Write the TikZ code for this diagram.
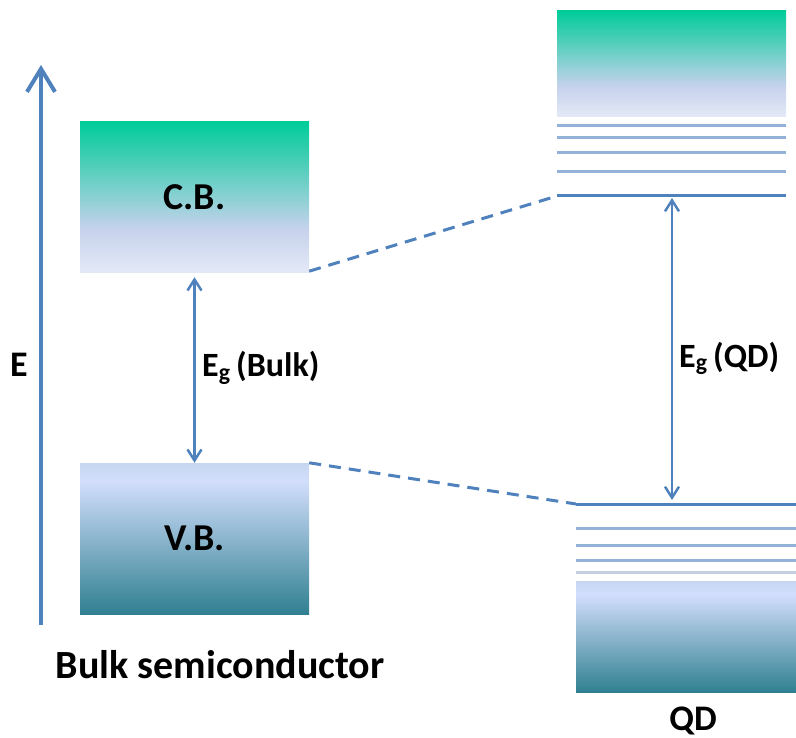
\documentclass[tikz,border=0pt]{standalone}
\usepackage{fontspec}
\setmainfont{Carlito}
\usetikzlibrary{arrows.meta}

\definecolor{lineblue}{RGB}{79,129,189}
\definecolor{levelblue}{RGB}{146,178,216}
\definecolor{levelpale}{RGB}{196,208,226}
\definecolor{cbtop}{RGB}{0,204,153}
\definecolor{cblav}{RGB}{198,210,236}
\definecolor{cbbot}{RGB}{228,233,246}
\definecolor{vbtop}{RGB}{198,214,240}
\definecolor{vbpale}{RGB}{210,222,252}
\definecolor{vbbot}{RGB}{48,128,145}

\pgfdeclareverticalshading{cbshade}{100bp}{color(0bp)=(cbbot); color(25bp)=(cbbot); color(39.5bp)=(cblav); color(75bp)=(cbtop); color(100bp)=(cbtop)}
\pgfdeclareverticalshading{vbshade}{100bp}{color(0bp)=(vbbot); color(25bp)=(vbbot); color(69bp)=(vbpale); color(75bp)=(vbtop); color(100bp)=(vbtop)}

\begin{document}
\begin{tikzpicture}[x=1pt,y=-1pt]
    \tikzstyle{every node}=[inner sep=0pt, font=\bfseries\fontsize{36}{40}\selectfont];
    \tikzstyle{band} = [minimum width=229pt, minimum height=151pt, font=\bfseries\fontsize{38}{40}\selectfont]
    \tikzstyle{gaplabel} = [anchor=base west, font=\bfseries\fontsize{34}{40}\selectfont]
    \tikzstyle{level} = [line width=3pt, draw=lineblue]
    \tikzstyle{sublevel} = [line width=3pt]
    \tikzstyle{axis} = [-{Straight Barb[length=23pt,width=28pt]}, line width=4pt, draw=lineblue]
    \tikzstyle{gap} = [{Straight Barb[length=11pt,width=14pt]}-{Straight Barb[length=11pt,width=14pt]}, line width=2.5pt, draw=lineblue]
    \tikzstyle{joint} = [dash pattern=on 12pt off 8pt, line width=3pt, draw=lineblue]

    \useasboundingbox (0,0) rectangle (796,738);

    % bulk bands
    \node[band, shading=cbshade] (CB) at (194.5,197.5) {C.B.};
    \node[band, shading=vbshade] (VB) at (194.5,538.5) {V.B.};

    % quantum dot bands and levels
    \node[band, minimum height=106pt, shading=cbshade] (QDCB) at (671.5,64) {};
    \node[band, minimum width=220pt, minimum height=111pt, shading=vbshade] (QDVB) at (686,636.5) {};

    \foreach \y in {126,138,153,172}
        \draw[sublevel, draw=levelblue] (557,\y) -- (786,\y);
    \draw[level] (557,196) coordinate (CBedge) -- (786,196);

    \draw[level] (576,504) coordinate (VBedge) -- (796,504);
    \foreach \y/\c in {528/levelblue, 545/levelblue, 560/levelblue, 572/levelpale}
        \draw[sublevel, draw=\c] (576,\y) -- (796,\y);

    % energy axis
    \coordinate (Ebase) at (41,625);
    \coordinate (Etip) at (41,65);
    \draw[axis] (Ebase) -- (Etip);
    \node[anchor=base west] (Elabel) at (10,377) {E};

    % gaps
    \draw[gap, shorten <=4pt] (CB.south) -- (VB.north);
    \node[gaplabel] (EgBulk) at (202,377) {E\textsubscript{g}\,(Bulk)};

    \coordinate (QDgapTop) at (672,198);
    \coordinate (QDgapBot) at (672,500);
    \draw[gap] (QDgapTop) -- (QDgapBot);
    \node[gaplabel] (EgQD) at (679,367) {E\textsubscript{g}\,(QD)};

    \draw[joint] ([yshift=2pt]CB.south east) -- (CBedge);
    \draw[joint] (VB.north east) -- (VBedge);

    \node[anchor=base, font=\bfseries\fontsize{40}{44}\selectfont] (BulkName) at (220,678) {Bulk semiconductor};
    \node[anchor=base] (QDName) at (693,730) {QD};

\end{tikzpicture}
\end{document}
